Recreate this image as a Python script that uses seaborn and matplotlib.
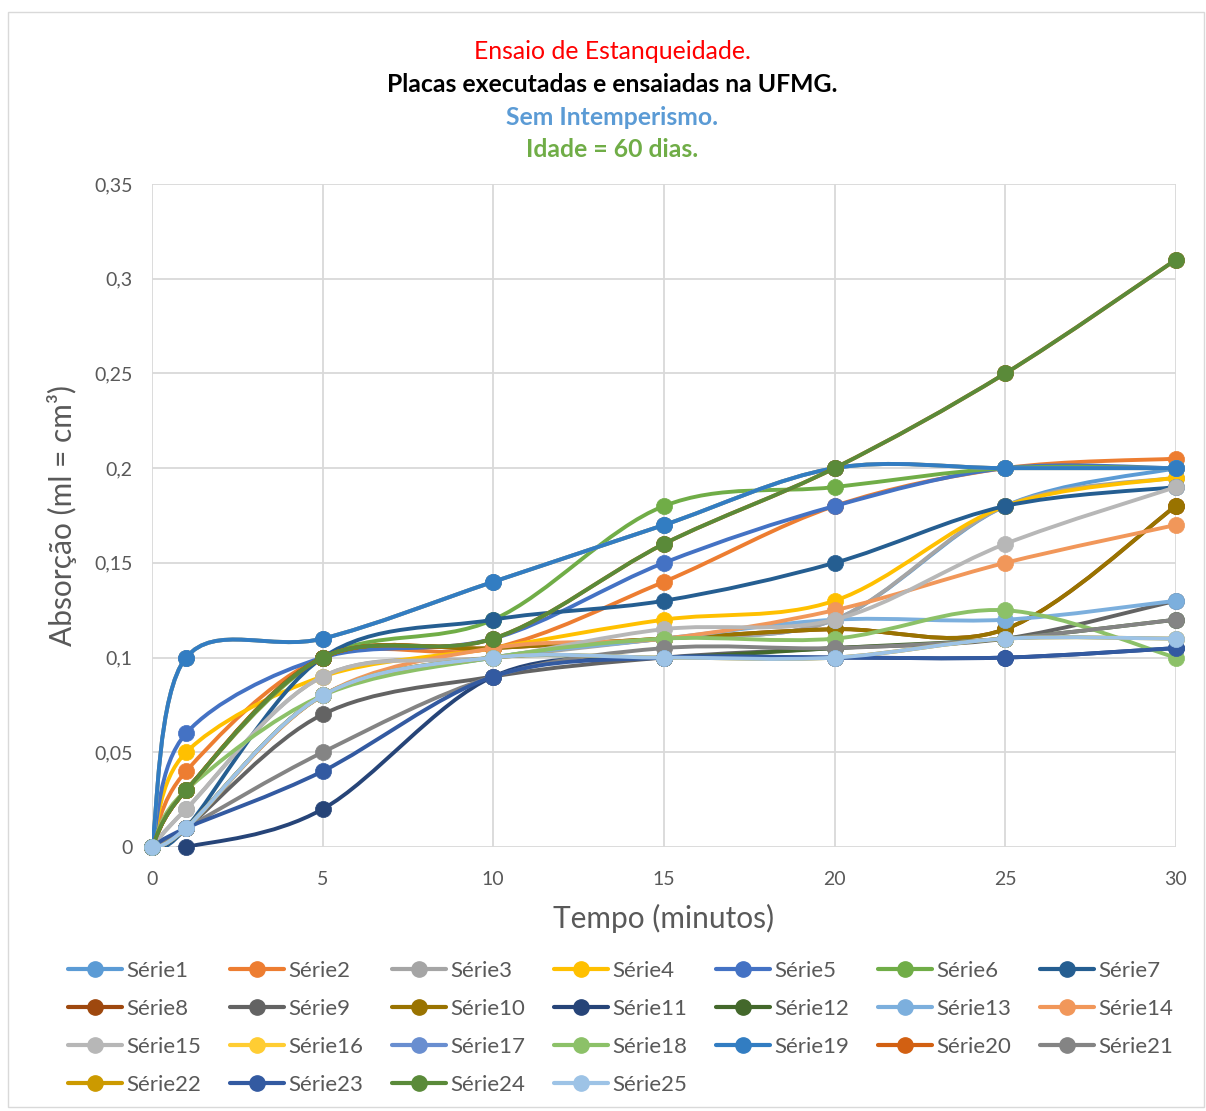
import numpy as np
import pandas as pd
import matplotlib
matplotlib.use("Agg")
import matplotlib.pyplot as plt
from matplotlib.path import Path
from matplotlib.patches import PathPatch, Rectangle
from matplotlib.lines import Line2D
import seaborn as sns

# Tempo de ensaio (minutos)
tempo = [0, 1, 5, 10, 15, 20, 25, 30]

# Absorção (ml) de cada placa
serie1 = [0, 0.01, 0.08, 0.10, 0.11, 0.12, 0.18, 0.20]
serie2 = [0, 0.04, 0.10, 0.105, 0.14, 0.18, 0.20, 0.205]
serie3 = [0, 0.02, 0.09, 0.10, 0.11, 0.12, 0.18, 0.195]
serie4 = [0, 0.05, 0.09, 0.105, 0.12, 0.13, 0.18, 0.195]
serie5 = [0, 0.06, 0.10, 0.11, 0.15, 0.18, 0.20, 0.20]
serie6 = [0, 0.03, 0.10, 0.12, 0.18, 0.19, 0.20, 0.20]
serie7 = [0, 0.01, 0.10, 0.12, 0.13, 0.15, 0.18, 0.19]
serie8 = [0, 0.03, 0.10, 0.105, 0.11, 0.115, 0.115, 0.18]
serie9 = [0, 0.01, 0.07, 0.09, 0.10, 0.105, 0.11, 0.13]
serie10 = [0, 0.03, 0.10, 0.105, 0.11, 0.115, 0.115, 0.18]
serie11 = [0, 0.0, 0.02, 0.09, 0.10, 0.10, 0.10, 0.105]
serie12 = [0, 0.01, 0.08, 0.10, 0.10, 0.105, 0.11, 0.12]
serie13 = [0, 0.01, 0.08, 0.10, 0.11, 0.12, 0.12, 0.13]
serie14 = [0, 0.01, 0.08, 0.105, 0.11, 0.125, 0.15, 0.17]
serie15 = [0, 0.02, 0.09, 0.10, 0.115, 0.12, 0.16, 0.19]
serie16 = [0, 0.10, 0.11, 0.14, 0.17, 0.20, 0.20, 0.20]
serie17 = [0, 0.10, 0.11, 0.14, 0.17, 0.20, 0.20, 0.20]
serie18 = [0, 0.03, 0.08, 0.10, 0.11, 0.11, 0.125, 0.10]
serie19 = [0, 0.10, 0.11, 0.14, 0.17, 0.20, 0.20, 0.20]
serie20 = [0, 0.03, 0.10, 0.11, 0.16, 0.20, 0.25, 0.31]
serie21 = [0, 0.01, 0.05, 0.09, 0.105, 0.105, 0.11, 0.12]
serie22 = [0, 0.01, 0.08, 0.10, 0.10, 0.10, 0.11, 0.11]
serie23 = [0, 0.01, 0.04, 0.09, 0.10, 0.10, 0.10, 0.105]
serie24 = [0, 0.03, 0.10, 0.11, 0.16, 0.20, 0.25, 0.31]
serie25 = [0, 0.01, 0.08, 0.10, 0.10, 0.10, 0.11, 0.11]

series = [serie1, serie2, serie3, serie4, serie5, serie6, serie7, serie8,
          serie9, serie10, serie11, serie12, serie13, serie14, serie15,
          serie16, serie17, serie18, serie19, serie20, serie21, serie22,
          serie23, serie24, serie25]
nomes = [f"Série{i}" for i in range(1, 26)]

cores = ["#5B9BD5", "#ED7D31", "#A5A5A5", "#FFC000", "#4472C4", "#70AD47",
         "#255E91", "#9E480E", "#636363", "#997300", "#264478", "#43682B",
         "#7CAFDD", "#F1975A", "#B7B7B7", "#FFCD33", "#698ED0", "#8CC168",
         "#327DC2", "#D26012", "#848484", "#CC9A00", "#335AA1", "#5A8A39",
         "#9DC3E6"]

y_ticks = [0, 0.05, 0.1, 0.15, 0.2, 0.25, 0.3, 0.35]
y_labels = ["0", "0,05", "0,1", "0,15", "0,2", "0,25", "0,3", "0,35"]
x_ticks = [0, 5, 10, 15, 20, 25, 30]

titulos = [("Ensaio de Estanqueidade.", "#FF0000", "normal"),
           ("Placas executadas e ensaiadas na UFMG.", "#000000", "bold"),
           ("Sem Intemperismo.", "#5B9BD5", "bold"),
           ("Idade = 60 dias.", "#70AD47", "bold")]

df = pd.DataFrame({
    "tempo": np.tile(tempo, len(series)),
    "absorcao": np.concatenate(series),
    "serie": np.repeat(nomes, len(tempo)),
})

sns.set_theme(style="whitegrid")
plt.rcParams["font.family"] = ["Lato", "DejaVu Sans"]

TXT = "#595959"
GRID = "#D9D9D9"

fig = plt.figure(figsize=(12.06, 11.11), dpi=100)
fig.patch.set_facecolor("white")
fig.add_artist(Rectangle((0.007, 0.004), 0.991, 0.985, transform=fig.transFigure,
                         fill=False, edgecolor=GRID, linewidth=1.0))

ax = fig.add_axes([0.126, 0.2376, 0.849, 0.5968])
ax.set_facecolor("white")


def curva_suave(xs, ys):
    """Bezier path through the points (smoothed line, Excel style)."""
    p = np.column_stack([xs, ys]).astype(float)
    n = len(p)
    verts = [p[0]]
    codes = [Path.MOVETO]
    for i in range(n - 1):
        a = p[i - 1] if i > 0 else p[i]
        d = p[i + 2] if i + 2 < n else p[i + 1]
        c1 = p[i] + (p[i + 1] - a) / 6.0
        c2 = p[i + 1] - (d - p[i]) / 6.0
        verts += [c1, c2, p[i + 1]]
        codes += [Path.CURVE4] * 3
    return Path(verts, codes)


for k, nome in enumerate(nomes):
    sub = df[df["serie"] == nome]
    z = 2 + k * 0.02
    ax.add_patch(PathPatch(curva_suave(sub["tempo"], sub["absorcao"]),
                           facecolor="none", edgecolor=cores[k],
                           linewidth=2.8, zorder=z, capstyle="round",
                           joinstyle="round"))
    sns.scatterplot(data=sub, x="tempo", y="absorcao", ax=ax, color=cores[k],
                    s=135, edgecolor=cores[k], linewidth=0.5, zorder=z + 0.01,
                    legend=False, clip_on=False)

ax.set_xlim(0, 30)
ax.set_ylim(0, 0.35)
ax.set_xticks(x_ticks)
ax.set_xticklabels([str(t) for t in x_ticks])
ax.set_yticks(y_ticks)
ax.set_yticklabels(y_labels)
ax.grid(True, color=GRID, linewidth=1.3)
for s in ax.spines.values():
    s.set_visible(False)
ax.tick_params(axis="both", length=0, labelsize=14, labelcolor=TXT)
ax.tick_params(axis="y", pad=14)
ax.tick_params(axis="x", pad=17)
ax.set_xlabel("Tempo (minutos)", fontsize=21.5, color=TXT, labelpad=12)
ax.set_ylabel("Absorção (ml = cm³)", fontsize=21.5, color=TXT, labelpad=12)

ys_titulo = [0.9537, 0.9235, 0.8938, 0.865]
for (txt, cor, peso), yy in zip(titulos, ys_titulo):
    fig.text(0.5075, yy, txt, ha="center", va="center", color=cor,
             fontsize=17.8, fontweight=peso)

# Legend laid out row by row (7 per row)
handles = [Line2D([0], [0], color=c, linewidth=3.0, marker="o", markersize=11,
                  markeredgecolor=c) for c in cores]
ncol = 7
nrows = int(np.ceil(len(nomes) / ncol))
ordem = []
for c in range(ncol):
    for r in range(nrows):
        idx = r * ncol + c
        if idx < len(nomes):
            ordem.append(idx)
fig.legend([handles[i] for i in ordem], [nomes[i] for i in ordem],
           ncol=ncol, loc="upper left", bbox_to_anchor=(0.0563, 0.135),
           frameon=False, fontsize=16, labelcolor=TXT, handlelength=2.43,
           handletextpad=0.18, columnspacing=1.31, labelspacing=0.81,
           borderpad=0, borderaxespad=0)

fig.savefig("out.png", dpi=100, facecolor="white")
